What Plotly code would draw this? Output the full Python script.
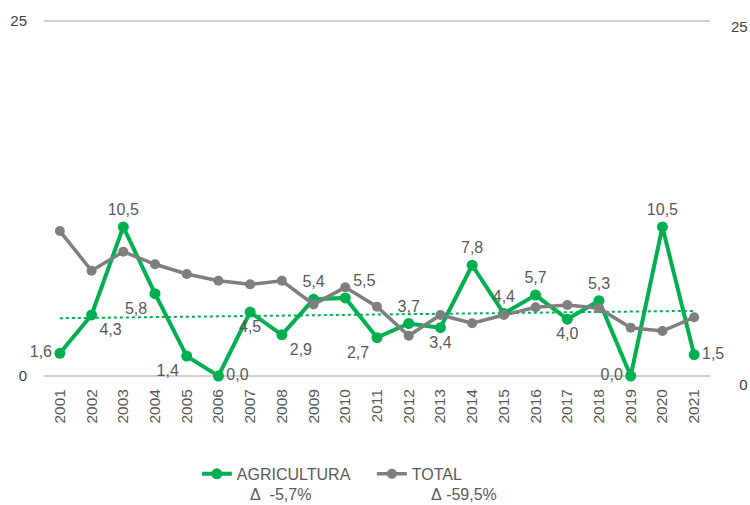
import numpy as np
import plotly.graph_objects as go

years = [str(y) for y in range(2001, 2022)]
agricultura = [1.6, 4.3, 10.5, 5.8, 1.4, 0.0, 4.5, 2.9, 5.4, 5.5, 2.7, 3.7, 3.4, 7.8, 4.4, 5.7, 4.0, 5.3, 0.0, 10.5, 1.5]
total = [10.75, 7.98, 9.31, 8.43, 7.75, 7.28, 7.03, 7.28, 5.63, 6.82, 5.47, 3.44, 4.89, 4.31, 4.89, 5.43, 5.59, 5.36, 4.00, 3.77, 4.73]
label_pos = ["middle left", "bottom right", "top center", "bottom left", "bottom left",
             "middle right", "bottom center", "bottom right", "top center", "top right",
             "bottom left", "top center", "bottom center", "top center", "top center",
             "top center", "bottom center", "top center", "middle left", "top center",
             "middle right"]
series_names = ["AGRICULTURA", "TOTAL"]
delta_texts = ["Δ\u00a0\u00a0-5,7%", "Δ\u00a0-59,5%"]
left_ticks = ["0", "25"]
right_ticks = ["\u20070", "25"]

GREEN = "#00B050"
GRAY = "#7F7F7F"
TXT = "#595959"
FONT = "Liberation Sans, Arial, sans-serif"

labels = [f"{v:.1f}".replace(".", ",") for v in agricultura]

# linear trendline of the agriculture series
xi = np.arange(len(years))
coef = np.polyfit(xi, agricultura, 1)
trend = np.polyval(coef, xi)

fig = go.Figure()
fig.add_trace(go.Scatter(
    x=years, y=trend, mode="lines", showlegend=False, hoverinfo="skip",
    line=dict(color=GREEN, width=2, dash="dot"), yaxis="y"))
fig.add_trace(go.Scatter(
    x=years, y=agricultura, mode="lines+markers+text", name=series_names[0],
    text=labels, textposition=label_pos, cliponaxis=False,
    textfont=dict(size=16, color=TXT, family=FONT),
    line=dict(color=GREEN, width=4), marker=dict(size=11, color=GREEN),
    yaxis="y"))
fig.add_trace(go.Scatter(
    x=years, y=total, mode="lines+markers", name=series_names[1], cliponaxis=False,
    line=dict(color=GRAY, width=3.5), marker=dict(size=10, color=GRAY),
    yaxis="y2"))

fig.add_annotation(text=delta_texts[0], xref="paper", yref="paper", x=0.306, y=-0.298,
                   xanchor="left", yanchor="middle", showarrow=False,
                   font=dict(size=16, color=TXT, family=FONT))
fig.add_annotation(text=delta_texts[1], xref="paper", yref="paper", x=0.578, y=-0.298,
                   xanchor="left", yanchor="middle", showarrow=False,
                   font=dict(size=16, color=TXT, family=FONT))

fig.update_layout(
    width=750, height=505,
    margin=dict(l=44, r=40, t=16, b=120, autoexpand=False),
    paper_bgcolor="white", plot_bgcolor="white",
    font=dict(family=FONT, color=TXT, size=14),
    xaxis=dict(type="category", tickangle=-90, showgrid=False, zeroline=False,
               showline=False, ticks="", tickfont=dict(size=15.5, color=TXT),
               range=[-0.5, 20.5], automargin=False),
    yaxis=dict(range=[-0.634, 25.35], tickvals=[0, 25], ticktext=left_ticks,
               showgrid=True, gridcolor="#D0D0D0", gridwidth=1.5,
               zeroline=True, zerolinecolor="#D0D0D0", zerolinewidth=1.5,
               showline=False, ticks="", ticklabelstandoff=16, automargin=False,
               tickfont=dict(size=15, color="#404040")),
    yaxis2=dict(range=[0, 25.77], tickvals=[0, 25], ticktext=right_ticks,
                overlaying="y", side="right", showgrid=False, zeroline=False,
                showline=False, ticks="", ticklabelstandoff=20, automargin=False,
                tickfont=dict(size=15, color="#404040")),
    legend=dict(orientation="h", x=0.2295, xanchor="left", y=-0.195, yanchor="top",
                font=dict(size=16, color=TXT, family=FONT), entrywidth=130,
                bgcolor="rgba(0,0,0,0)", traceorder="normal"),
    showlegend=True,
)

fig.write_html("out.html", config={"displayModeBar": False},
               post_script="document.body.style.margin='0';document.body.style.padding='0';")
